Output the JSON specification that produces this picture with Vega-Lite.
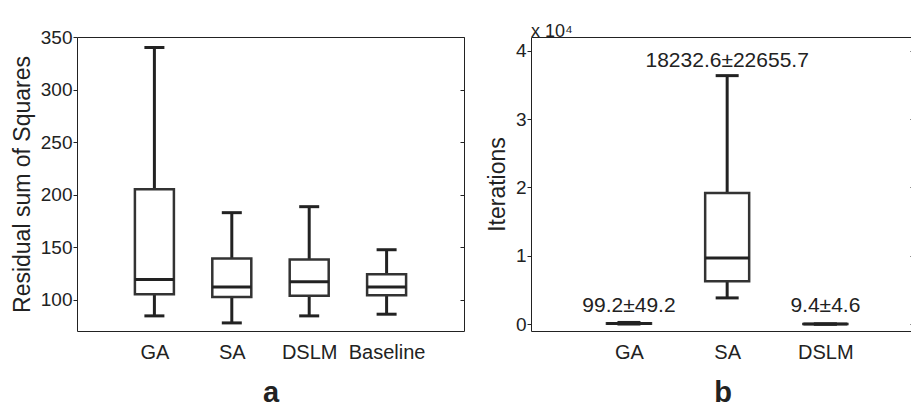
{
  "$schema": "https://vega.github.io/schema/vega-lite/v6.json",
  "background": "white",
  "padding": {"left": 10, "top": 17, "right": 0, "bottom": 0},
  "spacing": 20,
  "datasets": {
    "rss": [
      {"method": "GA", "lo": 84.4, "q1": 105, "med": 119, "q3": 205, "hi": 340},
      {"method": "SA", "lo": 77.7, "q1": 102.5, "med": 112, "q3": 139, "hi": 182.7},
      {"method": "DSLM", "lo": 84.4, "q1": 103.5, "med": 117, "q3": 138.2, "hi": 188.4},
      {"method": "Baseline", "lo": 86, "q1": 104, "med": 112, "q3": 124, "hi": 147.4}
    ],
    "iter": [
      {"method": "GA", "lo": 20, "q1": 60, "med": 90, "q3": 130, "hi": 250, "label": "99.2±49.2", "ly": 1800},
      {"method": "SA", "lo": 3840, "q1": 6280, "med": 9680, "q3": 19170, "hi": 36350, "label": "18232.6±22655.7", "ly": 37600},
      {"method": "DSLM", "lo": 2, "q1": 6, "med": 9, "q3": 13, "hi": 25, "label": "9.4±4.6", "ly": 1800}
    ]
  },
  "config": {
    "font": "Liberation Sans",
    "view": {"stroke": "#222", "strokeWidth": 1},
    "tick": {"opacity": 1},
    "axis": {
      "grid": false,
      "domain": false,
      "labelFont": "Liberation Sans",
      "titleFont": "Liberation Sans",
      "labelColor": "#222",
      "titleColor": "#222",
      "tickColor": "#222",
      "titleFontWeight": "normal"
    },
    "title": {"font": "Liberation Sans", "color": "#222", "fontWeight": "normal"}
  },
  "hconcat": [
    {
      "width": 387,
      "height": 294,
      "title": {"text": " ", "fontSize": 14, "offset": -4},
      "data": {"name": "rss"},
      "encoding": {
        "x": {
          "field": "method",
          "type": "nominal",
          "scale": {"type": "point", "domain": ["GA", "SA", "DSLM", "Baseline"], "padding": 1},
          "axis": {
            "title": "a",
            "labelAngle": 0,
            "ticks": false,
            "labelFontSize": 20,
            "labelPadding": 11,
            "titleFontSize": 29,
            "titleFontWeight": "bold",
            "titlePadding": 16
          }
        }
      },
      "layer": [
        {
          "mark": {"type": "rule", "color": "#222", "strokeWidth": 3},
          "encoding": {
            "y": {
              "field": "lo",
              "type": "quantitative",
              "scale": {"domain": [70, 350], "nice": false, "zero": false},
              "axis": {"orient": "right", "values": [100, 150, 200, 250, 300, 350], "labels": false, "title": null, "tickSize": -4}
            },
            "y2": {"field": "hi"}
          }
        },
        {
          "layer": [
            {
              "mark": {"type": "tick", "color": "#222", "thickness": 3, "size": 20, "opacity": 1},
              "encoding": {
                "y": {
                  "field": "lo",
                  "type": "quantitative",
                  "scale": {"domain": [70, 350], "nice": false, "zero": false},
                  "axis": {
                    "title": "Residual sum of Squares",
                    "values": [100, 150, 200, 250, 300, 350],
                    "tickSize": 4,
                    "labelPadding": 1,
                    "labelFontSize": 19,
                    "titleFontSize": 23,
                    "titlePadding": 6
                  }
                }
              }
            },
            {
              "mark": {"type": "tick", "color": "#222", "thickness": 3, "size": 20, "opacity": 1},
              "encoding": {
                "y": {"field": "hi", "type": "quantitative", "scale": {"domain": [70, 350], "nice": false, "zero": false}}
              }
            },
            {
              "mark": {"type": "bar", "fill": "white", "stroke": "#333", "strokeWidth": 2.5, "size": 39},
              "encoding": {
                "y": {"field": "q1", "type": "quantitative", "scale": {"domain": [70, 350], "nice": false, "zero": false}},
                "y2": {"field": "q3"}
              }
            },
            {
              "mark": {"type": "tick", "color": "#222", "thickness": 3, "size": 39, "opacity": 1},
              "encoding": {
                "y": {"field": "med", "type": "quantitative", "scale": {"domain": [70, 350], "nice": false, "zero": false}}
              }
            }
          ]
        }
      ],
      "resolve": {"scale": {"y": "independent"}}
    },
    {
      "width": 383,
      "height": 294,
      "title": {"text": "x 10⁴", "anchor": "start", "frame": "group", "fontSize": 18, "offset": -4},
      "data": {"name": "iter"},
      "encoding": {
        "x": {
          "field": "method",
          "type": "nominal",
          "scale": {"type": "point", "domain": ["GA", "SA", "DSLM"], "padding": 0.95, "align": 0.525},
          "axis": {
            "title": "b",
            "labelAngle": 0,
            "ticks": false,
            "labelFontSize": 20,
            "labelPadding": 11,
            "titleFontSize": 29,
            "titleFontWeight": "bold",
            "titlePadding": 16
          }
        }
      },
      "layer": [
        {
          "mark": {"type": "rule", "color": "#222", "strokeWidth": 3},
          "encoding": {
            "y": {
              "field": "lo",
              "type": "quantitative",
              "scale": {"domain": [-1000, 42000], "nice": false, "zero": false},
              "axis": {"orient": "right", "values": [0, 10000, 20000, 30000, 40000], "labels": false, "title": null, "tickSize": -4}
            },
            "y2": {"field": "hi"}
          }
        },
        {
          "layer": [
            {
              "mark": {"type": "tick", "color": "#222", "thickness": 3, "size": 23, "opacity": 1},
              "encoding": {
                "y": {
                  "field": "lo",
                  "type": "quantitative",
                  "scale": {"domain": [-1000, 42000], "nice": false, "zero": false},
                  "axis": {
                    "title": "Iterations",
                    "values": [0, 10000, 20000, 30000, 40000],
                    "labelExpr": "datum.value / 10000",
                    "tickSize": 4,
                    "labelPadding": 1,
                    "labelFontSize": 19,
                    "titleFontSize": 23,
                    "titlePadding": 6
                  }
                }
              }
            },
            {
              "mark": {"type": "tick", "color": "#222", "thickness": 3, "size": 23, "opacity": 1},
              "encoding": {
                "y": {"field": "hi", "type": "quantitative", "scale": {"domain": [-1000, 42000], "nice": false, "zero": false}}
              }
            },
            {
              "mark": {"type": "bar", "fill": "white", "stroke": "#333", "strokeWidth": 2.5, "size": 44},
              "encoding": {
                "y": {"field": "q1", "type": "quantitative", "scale": {"domain": [-1000, 42000], "nice": false, "zero": false}},
                "y2": {"field": "q3"}
              }
            },
            {
              "mark": {"type": "tick", "color": "#222", "thickness": 3, "size": 44, "opacity": 1},
              "encoding": {
                "y": {"field": "med", "type": "quantitative", "scale": {"domain": [-1000, 42000], "nice": false, "zero": false}}
              }
            },
            {
              "mark": {"type": "text", "fontSize": 21, "baseline": "alphabetic", "color": "#222", "font": "Liberation Sans"},
              "encoding": {
                "y": {"field": "ly", "type": "quantitative", "scale": {"domain": [-1000, 42000], "nice": false, "zero": false}},
                "text": {"field": "label"}
              }
            }
          ]
        }
      ],
      "resolve": {"scale": {"y": "independent"}}
    }
  ]
}
